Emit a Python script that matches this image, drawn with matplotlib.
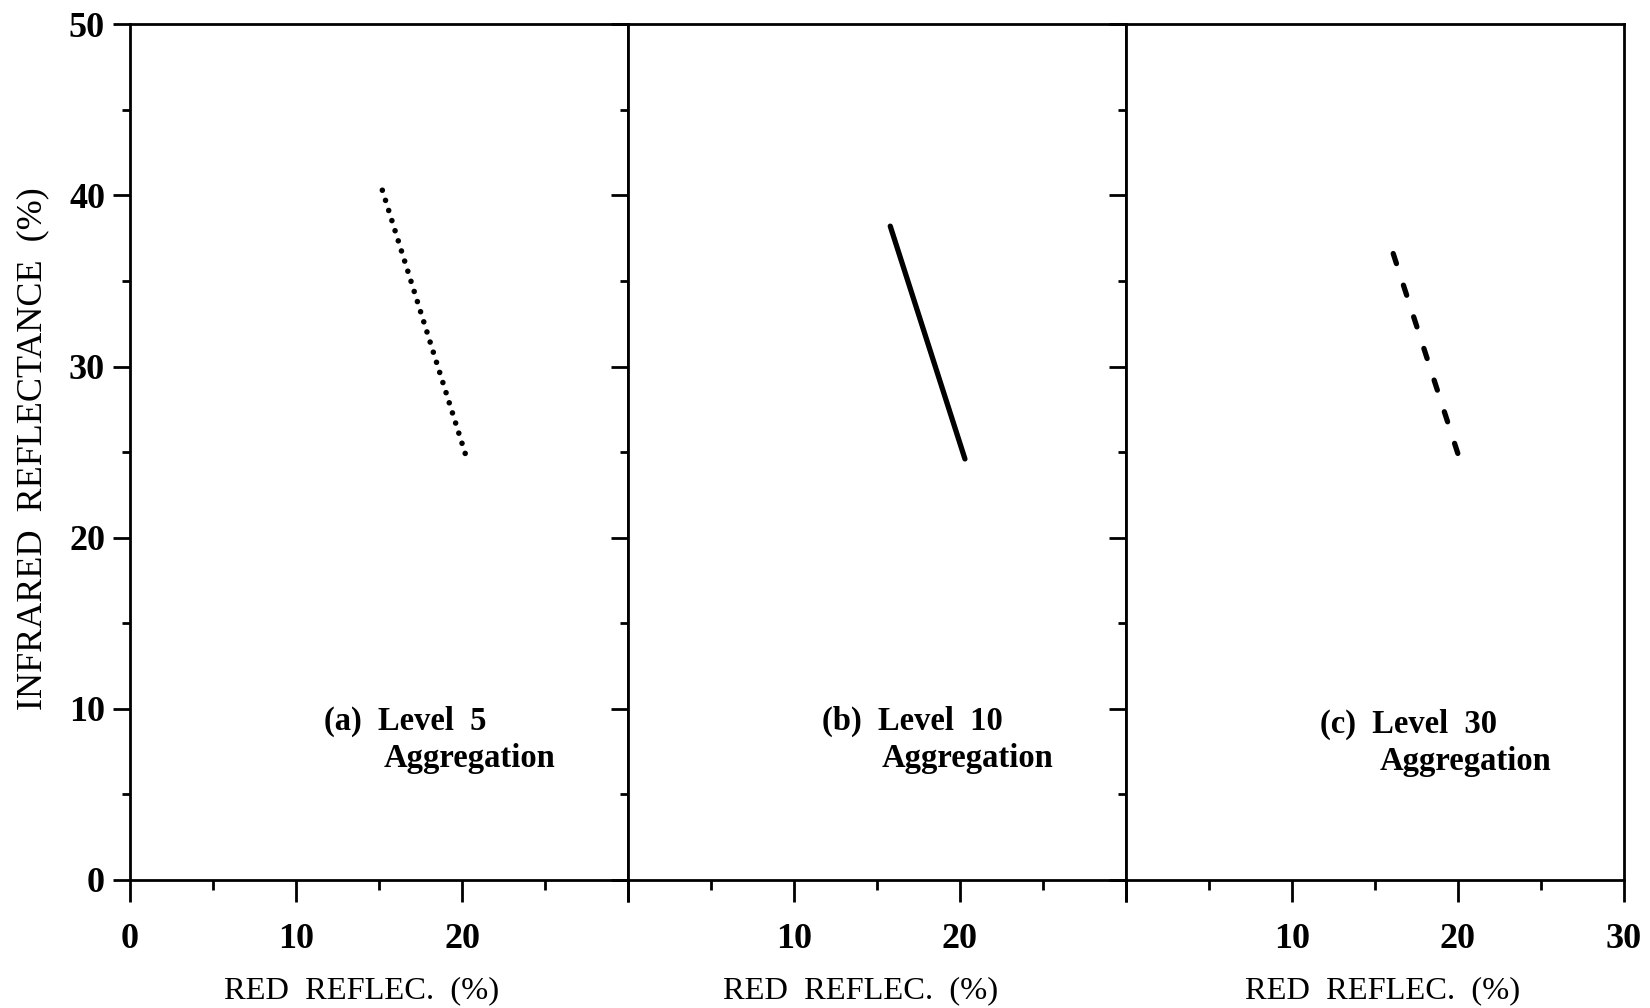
import matplotlib.pyplot as plt
from matplotlib.ticker import MultipleLocator, FixedLocator

plt.rcParams['font.family'] = ['Liberation Serif', 'DejaVu Serif']
plt.rcParams['font.weight'] = 'bold'

# data (red reflectance vs infrared reflectance, %)
red_a = [15.2, 20.2]
nir_a = [40.3, 24.9]
red_b = [15.8, 20.3]
nir_b = [38.2, 24.6]
red_c = [16.1, 20.0]
nir_c = [36.6, 24.9]

panel_labels = ["(a)  Level  5", "(b)  Level  10", "(c)  Level  30"]
label_y = [8.8, 8.8, 8.6]
xlabel_x = [0.464, 0.468, 0.515]
x_ticklabels = [["0", "10", "20", ""], ["", "10", "20", ""], ["", "10", "20", "30"]]
y_ticks = [0, 10, 20, 30, 40, 50]

fig = plt.figure(figsize=(16.5, 10.08), dpi=100)

left = 0.0788
width = 0.3018
bottom = 0.127
height = 0.849

axes = []
for i in range(3):
    ax = fig.add_axes([left + i * width, bottom, width, height])
    axes.append(ax)

# the three lines
axes[0].plot(red_a, nir_a, color='black', linewidth=4.0,
             linestyle=(0, (0.01, 1.9)), dash_capstyle='round')
axes[1].plot(red_b, nir_b, color='black', linewidth=3.8,
             solid_capstyle='round')
axes[2].plot(red_c, nir_c, color='black', linewidth=3.8,
             linestyle=(0, (2.0, 4.3)), dash_capstyle='round')

for i, ax in enumerate(axes):
    ax.set_xlim(0, 30)
    ax.set_ylim(0, 50)
    for s in ax.spines.values():
        s.set_linewidth(2.0)

    # x ticks
    ax.xaxis.set_major_locator(FixedLocator([0, 10, 20, 30]))
    ax.xaxis.set_minor_locator(FixedLocator([5, 15, 25]))
    ax.set_xticklabels(x_ticklabels[i])
    ax.tick_params(axis='x', which='major', direction='out', length=16, width=2.0,
                   labelsize=26, pad=15)
    ax.tick_params(axis='x', which='minor', direction='out', length=7, width=2.0)

    # y ticks
    ax.set_yticks(y_ticks)
    ax.yaxis.set_minor_locator(MultipleLocator(5))
    ax.tick_params(axis='y', which='major', direction='out', length=12, width=2.0,
                   labelsize=26, pad=6)
    ax.tick_params(axis='y', which='minor', direction='out', length=6, width=2.0)
    if i > 0:
        ax.tick_params(axis='y', labelleft=False)

    ax.text(xlabel_x[i], -0.129, "RED  REFLEC.  (%)", fontsize=23.4, fontweight='normal',
            ha='center', va='center', transform=ax.transAxes)

    # panel caption
    ax.text(11.7, label_y[i], panel_labels[i], fontsize=23.5, ha='left', va='baseline')
    ax.text(15.3, label_y[i] - 2.2, "Aggregation", fontsize=23.5, ha='left', va='baseline')

fig.text(33 / 1650, 1 - 449 / 1008, "INFRARED  REFLECTANCE  (%)", fontsize=26,
         fontweight='normal', rotation=90, ha='center', va='center')

fig.savefig("out.png", dpi=100)
